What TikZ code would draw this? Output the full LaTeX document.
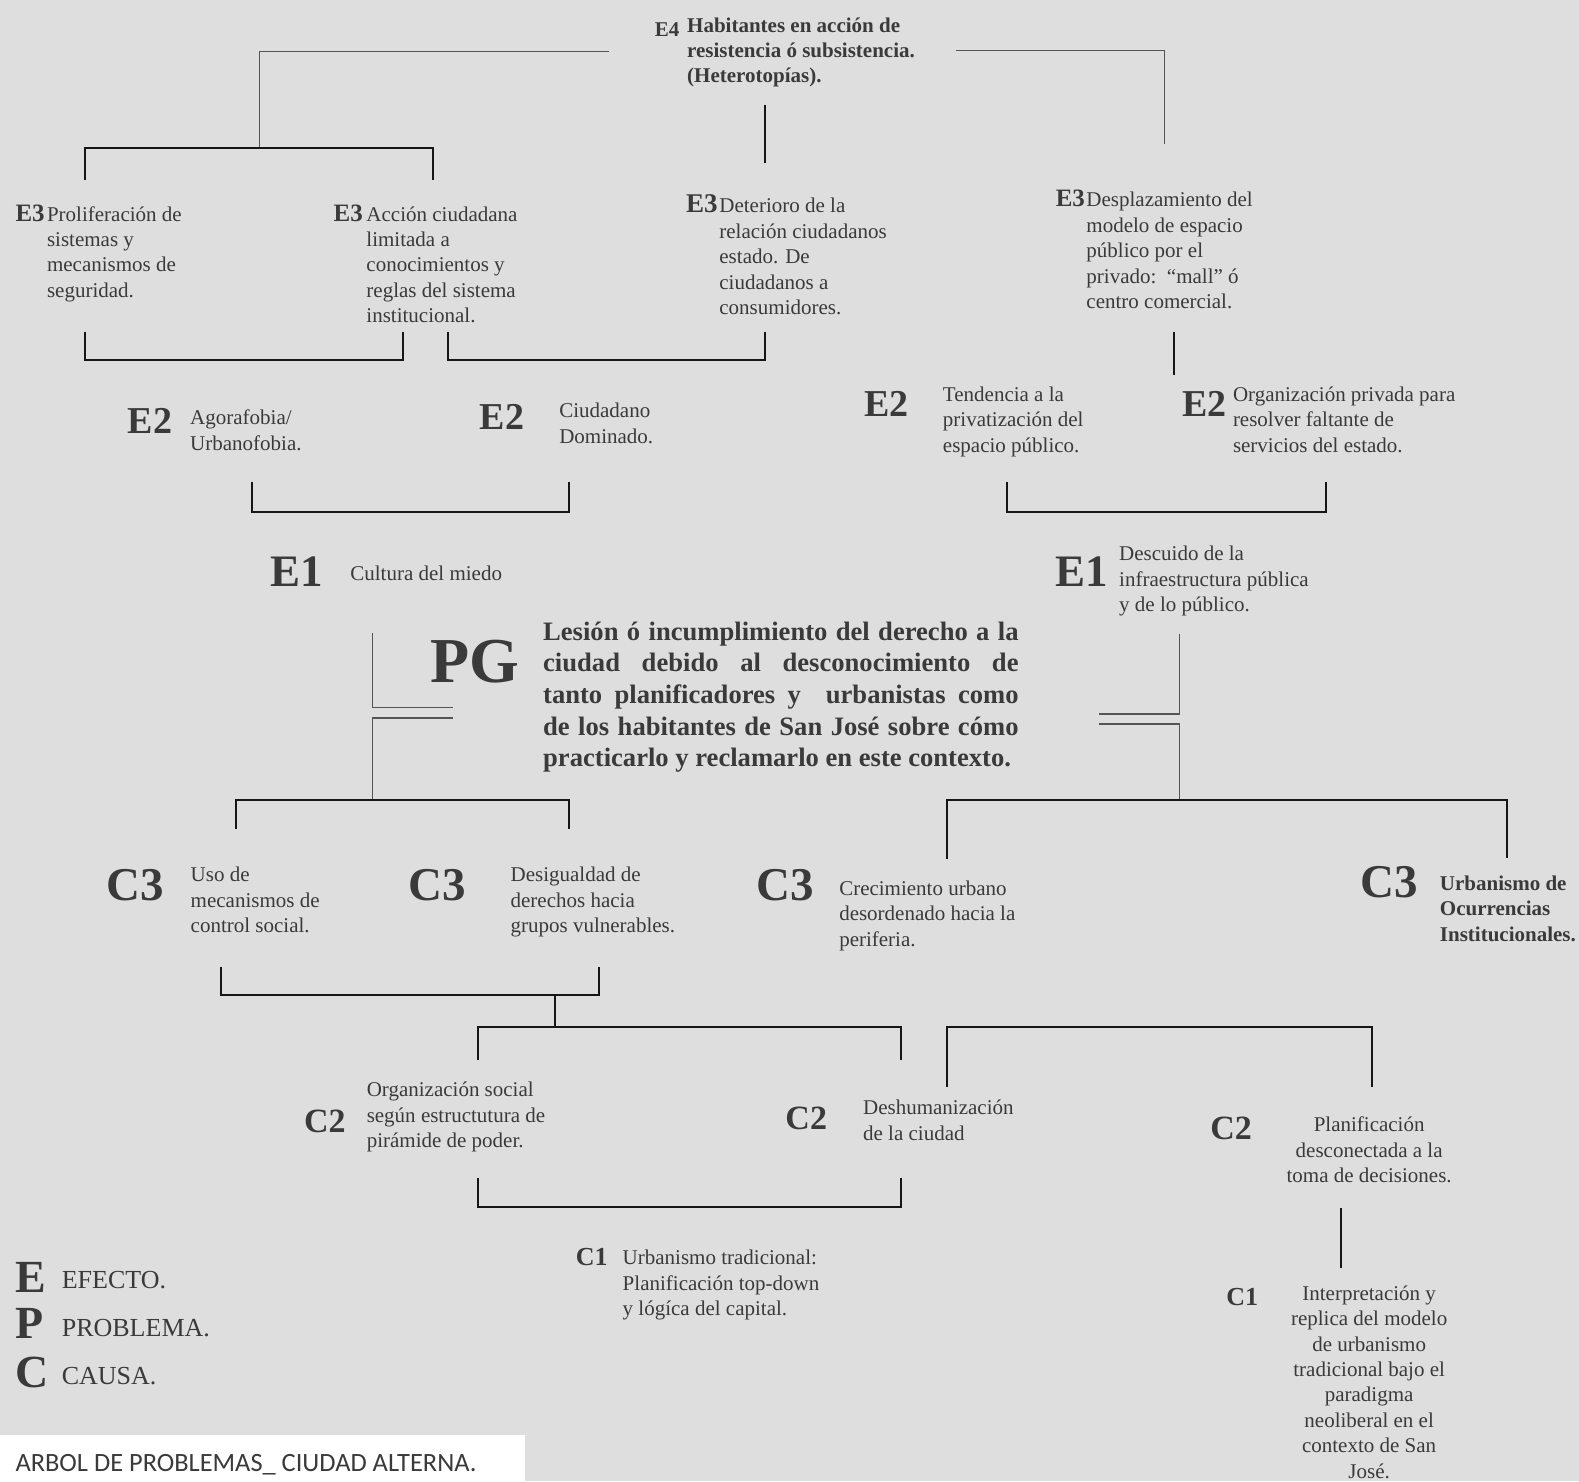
\documentclass[tikz,border=0pt]{standalone}
\usepackage{fontspec}
\setmainfont{Liberation Serif}
\newfontfamily\calibfont{Carlito}
\definecolor{bg}{RGB}{222,222,222}
\definecolor{ink}{RGB}{58,58,58}
\definecolor{lineblk}{RGB}{22,22,22}
\definecolor{linegray}{RGB}{85,85,85}
\newcommand{\blk}[1]{\begin{tabular}[t]{@{}l@{}}#1\end{tabular}}
\newcommand{\blkc}[1]{\begin{tabular}[t]{@{}c@{}}#1\end{tabular}}
\begin{document}
\begin{tikzpicture}[x=0.5035pt,y=-0.5035pt,
  txt/.style={anchor=base west, inner sep=0, text=ink, font=\fontsize{10.5}{12.74}\selectfont},
  txtb/.style={txt, font=\bfseries\fontsize{10.5}{12.74}\selectfont},
  txtc/.style={anchor=base, inner sep=0, text=ink, font=\fontsize{10.5}{12.74}\selectfont},
  lab/.style={anchor=base west, inner sep=0, text=ink, font=\bfseries\fontsize{#1}{#1}\selectfont},
  legw/.style={anchor=base west, inner sep=0, text=ink, font=\fontsize{13}{13}\selectfont},
  thinln/.style={draw=linegray, line width=0.55pt},
  thickln/.style={draw=lineblk, line width=1pt}]
\fill[bg] (0,0) rectangle (1568,1471);
\useasboundingbox (0,0) rectangle (1568,1471);

% ---------- E4 ----------
\node[lab=10.5] (e4l) at (650,35.8) {E4};
\node[txtb] (e4) at (682,31.8) {\blk{Habitantes en acción de\\resistencia ó subsistencia.\\(Heterotopías).}};

% ---------- E3 ----------
\node[lab=12.5] (e3al) at (15,219.5) {E3};
\node[txt] (e3a) at (46.3,219.5) {\blk{Proliferación de\\sistemas y\\mecanismos de\\seguridad.}};
\node[lab=12.5] (e3bl) at (331,219.5) {E3};
\node[txt] (e3b) at (363.5,219.5) {\blk{Acción ciudadana\\limitada a\\conocimientos y\\reglas del sistema\\institucional.}};
\node[lab=13.5] (e3cl) at (681,211.5) {E3};
\node[txt] (e3c) at (714,211.5) {\blk{Deterioro de la\\relación ciudadanos\\estado. De\\ciudadanos a\\consumidores.}};
\node[lab=12.5] (e3dl) at (1048,205.5) {E3};
\node[txt] (e3d) at (1078.5,205.5) {\blk{Desplazamiento del\\modelo de espacio\\público por el\\privado:\ \ “mall” ó\\centro comercial.}};

% ---------- E2 ----------
\node[lab=19] (e2al) at (126.6,430) {E2};
\node[txt] (e2a) at (188.5,422) {\blk{Agorafobia/\\Urbanofobia.}};
\node[lab=19] (e2bl) at (476,427) {E2};
\node[txt] (e2b) at (555,415) {\blk{Ciudadano\\Dominado.}};
\node[lab=19] (e2cl) at (858,414) {E2};
\node[txt] (e2c) at (936,398.5) {\blk{Tendencia a la\\privatización del\\espacio público.}};
\node[lab=19] (e2dl) at (1174,414) {E2};
\node[txt] (e2d) at (1224,398.5) {\blk{Organización privada para\\resolver faltante de\\servicios del estado.}};

% ---------- E1 ----------
\node[lab=22.5] (e1al) at (268.5,582.6) {E1};
\node[txt] (e1a) at (347.5,576) {Cultura del miedo};
\node[lab=22.5] (e1bl) at (1048,582.6) {E1};
\node[txt] (e1b) at (1111,557) {\blk{Descuido de la\\infraestructura pública\\y de lo público.}};

% ---------- PG ----------
\node[lab=32] (pgl) at (427,678) {PG};
\node[anchor=base west, inner sep=0, text=ink, font=\bfseries\fontsize{13.3}{15.76}\selectfont] (pg) at (539,636)
  {\parbox[t]{237.7pt}{Lesión ó incumplimiento del derecho a la\linebreak
  ciudad debido al desconocimiento de\linebreak
  tanto planificadores y\ \ urbanistas como\linebreak
  de los habitantes de San José sobre cómo\linebreak
  practicarlo y reclamarlo en este contexto.}};

% ---------- C3 ----------
\node[lab=23.5] (c3al) at (105,894) {C3};
\node[txt] (c3a) at (189,875.5) {\blk{Uso de\\mecanismos de\\control social.}};
\node[lab=23.5] (c3bl) at (405,894) {C3};
\node[txt] (c3b) at (506.7,875.5) {\blk{Desigualdad de\\derechos hacia\\grupos vulnerables.}};
\node[lab=23.5] (c3cl) at (751,894) {C3};
\node[txt] (c3c) at (833,889) {\blk{Crecimiento urbano\\desordenado hacia la\\periferia.}};
\node[lab=23.5] (c3dl) at (1351,891) {C3};
\node[txtb] (c3d) at (1429.5,884) {\blk{Urbanismo de\\Ocurrencias\\Institucionales.}};

% ---------- C2 ----------
\node[lab=17] (c2al) at (301.5,1125) {C2};
\node[txt] (c2a) at (363.8,1089) {\blk{Organización social\\según estructutura de\\pirámide de poder.}};
\node[lab=17] (c2bl) at (779.6,1122) {C2};
\node[txt] (c2b) at (856.7,1107) {\blk{Deshumanización\\de la ciudad}};
\node[lab=17] (c2cl) at (1201.6,1132) {C2};
\node[txtc] (c2c) at (1359.6,1123.8) {\blkc{Planificación\\desconectada a la\\toma de decisiones.}};

% ---------- C1 ----------
\node[lab=13] (c1al) at (571.5,1257) {C1};
\node[txt] (c1a) at (618,1256) {\blk{Urbanismo tradicional:\\Planificación top-down\\y lógíca del capital.}};
\node[lab=13] (c1bl) at (1217.5,1296) {C1};
\node[txtc] (c1b) at (1359.6,1291) {\blkc{Interpretación y\\replica del modelo\\de urbanismo\\tradicional bajo el\\paradigma\\neoliberal en el\\contexto de San\\José.}};

% ---------- legend ----------
\node[lab=23] (lgE) at (15,1283) {E};
\node[legw] (lgEt) at (61,1280) {EFECTO.};
\node[lab=23] (lgP) at (15,1329) {P};
\node[legw] (lgPt) at (61,1327) {PROBLEMA.};
\node[lab=23] (lgC) at (15,1378) {C};
\node[legw] (lgCt) at (61,1375) {CAUSA.};

% ---------- title box ----------
\fill[white] (0,1425) rectangle (521,1471);
\node[anchor=base west, inner sep=0, text=ink, font=\calibfont\fontsize{13.2}{13.2}\selectfont] (title) at (15,1461) {ARBOL DE PROBLEMAS\_ CIUDAD ALTERNA.};

% ---------- connector coordinates ----------
\coordinate (t1) at (605,51);   \coordinate (t1e) at (258,147);
\coordinate (t2) at (949,50);   \coordinate (t2e) at (1156,143);
\coordinate (tv) at (760,104);
\coordinate (b1l) at (84.5,179); \coordinate (b1r) at (430,179);
\coordinate (b2l) at (84.5,329.5); \coordinate (b2r) at (400,329.5);
\coordinate (b3l) at (445,329.5); \coordinate (b3r) at (760,329.5);
\coordinate (v3) at (1166,329.5);
\coordinate (b4l) at (250,478.5); \coordinate (b4r) at (565,478.5);
\coordinate (b5l) at (1000,478.5); \coordinate (b5r) at (1317,478.5);
\coordinate (p1) at (369.5,629); \coordinate (p1e) at (450,703);
\coordinate (p2) at (450,713);   \coordinate (p2e) at (370,794.5);
\coordinate (p3) at (1171,629.6); \coordinate (p3e) at (1091,709);
\coordinate (p4) at (1091,719);  \coordinate (p4e) at (1171,794.5);
\coordinate (b6l) at (234.6,823); \coordinate (b6r) at (565,823);
\coordinate (b7l) at (940.5,853); \coordinate (b7r) at (1496.7,852);
\coordinate (b8l) at (219.4,960); \coordinate (b8r) at (595,960);
\coordinate (v8) at (550.7,988); \coordinate (v8e) at (550.7,1019.5);
\coordinate (b9l) at (474.7,1052.6); \coordinate (b9r) at (895,1052.6);
\coordinate (b10l) at (940.7,1079); \coordinate (b10r) at (1362,1079);
\coordinate (b11l) at (474.7,1170); \coordinate (b11r) at (895,1170);
\coordinate (v11) at (1331.7,1199.7); \coordinate (v11e) at (1331.7,1259);

% ---------- connectors ----------
\draw[thinln] (t1) -| (t1e);
\draw[thinln] (t2) -| (t2e);
\draw[thickln] (tv) -- ++(0,58);
\draw[thickln] (b1l) -- ++(0,-32) -| (b1r);
\draw[thickln] (b2l) -- ++(0,28) -| (b2r);
\draw[thickln] (b3l) -- ++(0,28) -| (b3r);
\draw[thickln] (v3) -- ++(0,42.5);
\draw[thickln] (b4l) -- ++(0,29.5) -| (b4r);
\draw[thickln] (b5l) -- ++(0,29.5) -| (b5r);
\draw[thinln] (p1) |- (p1e);
\draw[thinln] (p2) -| (p2e);
\draw[thinln] (p3) |- (p3e);
\draw[thinln] (p4) -| (p4e);
\draw[thickln] (b6l) -- ++(0,-28.5) -| (b6r);
\draw[thickln] (b7l) -- ++(0,-58.5) -| (b7r);
\draw[thickln] (b8l) -- ++(0,28) -| (b8r);
\draw[thickln] (v8) -- (v8e);
\draw[thickln] (b9l) -- ++(0,-33.1) -| (b9r);
\draw[thickln] (b10l) -- ++(0,-59.5) -| (b10r);
\draw[thickln] (b11l) -- ++(0,28.6) -| (b11r);
\draw[thickln] (v11) -- (v11e);
\end{tikzpicture}
\end{document}
